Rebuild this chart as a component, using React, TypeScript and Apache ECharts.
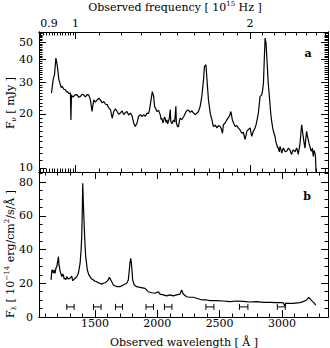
import React, { useEffect, useRef } from "react";
import * as echarts from "echarts";

// ---------- Data: top panel (F_nu [mJy] vs observed frequency [10^15 Hz]) ----------
const topFreq = [
  0.909, 0.915, 0.92, 0.925, 0.929, 0.932, 0.936, 0.94, 0.945, 0.949, 0.955, 0.961, 0.965, 0.968,
  0.974, 0.98, 0.982, 0.984, 0.988, 0.993, 1.0, 1.007, 1.013, 1.02, 1.027, 1.033, 1.04, 1.047,
  1.054, 1.061, 1.068, 1.075, 1.082, 1.09, 1.097, 1.104, 1.112, 1.119, 1.127, 1.134, 1.141, 1.149,
  1.157, 1.164, 1.172, 1.18, 1.187, 1.195, 1.203, 1.211, 1.219, 1.227, 1.235, 1.243, 1.252, 1.26,
  1.268, 1.277, 1.285, 1.294, 1.302, 1.311, 1.32, 1.329, 1.336, 1.342, 1.35, 1.357, 1.364, 1.369,
  1.375, 1.382, 1.391, 1.4, 1.405, 1.41, 1.415, 1.419, 1.424, 1.428, 1.433, 1.438, 1.442, 1.447,
  1.452, 1.457, 1.46, 1.467, 1.476, 1.483, 1.49, 1.493, 1.5, 1.506, 1.511, 1.516, 1.526, 1.536,
  1.544, 1.552, 1.56, 1.567, 1.578, 1.588, 1.598, 1.609, 1.62, 1.63, 1.641, 1.652, 1.663, 1.669,
  1.679, 1.686, 1.696, 1.708, 1.714, 1.72, 1.725, 1.73, 1.742, 1.754, 1.765, 1.777, 1.785, 1.793,
  1.8, 1.812, 1.824, 1.843, 1.854, 1.865, 1.876, 1.886, 1.898, 1.91, 1.922, 1.936, 1.948, 1.962,
  1.975, 1.988, 2.001, 2.014, 2.027, 2.038, 2.049, 2.058, 2.068, 2.075, 2.082, 2.096, 2.103, 2.11,
  2.118, 2.124, 2.128, 2.132, 2.143, 2.15, 2.158, 2.172, 2.18, 2.189, 2.2, 2.209, 2.217, 2.224,
  2.232, 2.239, 2.247, 2.254, 2.262, 2.269, 2.277, 2.284, 2.3, 2.314, 2.33, 2.345, 2.352, 2.36,
  2.368, 2.376, 2.392, 2.408, 2.416, 2.423, 2.43, 2.439, 2.447, 2.456, 2.463, 2.471, 2.48, 2.489,
  2.497, 2.505, 2.513, 2.521, 2.53, 2.538, 2.546, 2.555, 2.563, 2.572, 2.58, 2.589, 2.595, 2.6,
];
const topFlux = [
  26.1, 31, 33, 40.8, 38, 35.2, 31, 29.6, 28.0, 28.4, 27.4, 27.2, 26.5, 26.6,
  25.9, 26.1, 18.5, 25.5, 24.8, 25.0, 25.6, 25.5, 24.7, 25.0, 25.7, 25.5, 24.8, 25.6,
  25.5, 23.9, 20.6, 23.9, 23.2, 23.9, 24.4, 23.9, 23.0, 23.4, 22.6, 22.5, 21.6, 21.1,
  18.9, 20.6, 21.3, 20.6, 19.9, 20.2, 20.8, 19.8, 20.3, 20.6, 19.7, 20.2, 19.5, 17.8,
  17.0, 17.8, 19.4, 19.8, 19.3, 19.8, 19.4, 20.2, 20.0, 21.1, 23.9, 26.6, 25.0, 22.0,
  21.4, 20.6, 20.9, 19.8, 18.6, 18.9, 17.8, 18.2, 19.2, 18.9, 17.9, 18.5, 17.6, 18.2,
  19.0, 21.1, 18.2, 17.6, 18.5, 18.0, 22.0, 17.8, 17.0, 17.0, 18.3, 18.9, 18.6, 19.2,
  19.9, 20.6, 21.0, 20.9, 20.4, 20.8, 20.2, 19.8, 20.2, 20.6, 22.0, 25.0, 31.0, 36.6,
  37.5, 31.0, 23.9, 20.2, 19.2, 18.5, 17.6, 17.0, 17.3, 16.7, 17.2, 17.0, 16.5, 15.6,
  17.4, 17.8, 18.5, 19.4, 20.6, 18.5, 17.6, 17.0, 17.2, 16.7, 16.3, 15.6, 15.8, 14.4,
  16.0, 16.4, 16.7, 15.0, 16.0, 16.5, 17.4, 18.6, 20.2, 22.5, 25.0, 25.5, 27, 29.6,
  41.7, 52.7, 51, 49.5, 36.6, 30, 26.1, 20.2, 18.2, 16.7, 15.6, 15.0, 14.0, 13.5,
  13.0, 12.9, 12.3, 13.2, 12.7, 12.1, 12.6, 12.9, 12.3, 12.4, 12.9, 12.6, 12.2, 11.9,
  12.4, 12.6, 12.3, 12.9, 12.4, 11.9, 12.6, 13.5, 15.2, 17.4, 16.2, 15.0, 13.8, 12.9,
  14.6, 16.0, 15.0, 14.4, 13.6, 13.2, 12.6, 12.4, 12.9, 11.6, 12.5, 12.1, 11.5, 9.4,
];

// ---------- Data: bottom panel (F_lambda [1e-14 erg/cm2/s/A] vs observed wavelength [A]) ----------
const botWave = [
  1147, 1153, 1158, 1165, 1172, 1179, 1186, 1193, 1200, 1206, 1210, 1214, 1220, 1225, 1233, 1240,
  1246, 1252, 1259, 1266, 1273, 1286, 1299, 1313, 1320, 1326, 1340, 1353, 1366, 1380, 1388, 1393,
  1398, 1401, 1404, 1406, 1410, 1414, 1420, 1425, 1438, 1450, 1460, 1473, 1486, 1500, 1514, 1527,
  1540, 1553, 1567, 1580, 1594, 1605, 1615, 1626, 1637, 1647, 1660, 1674, 1701, 1727, 1754, 1767,
  1775, 1780, 1786, 1790, 1794, 1802, 1815, 1834, 1861, 1901, 1927, 1955, 1981, 2008, 2021, 2048,
  2075, 2102, 2128, 2155, 2182, 2195, 2208, 2235, 2262, 2288, 2316, 2342, 2369, 2396, 2422, 2449,
  2476, 2529, 2583, 2636, 2689, 2743, 2797, 2850, 2904, 2957, 3010, 3024, 3030, 3037, 3090, 3144,
  3171, 3198, 3216, 3238, 3256, 3272,
];
const botFlux = [
  22, 27.5, 27.9, 26, 28, 25.9, 29, 29.9, 33, 35.8, 31, 29.9, 27, 25.9, 23.9, 25.5,
  24.9, 22.5, 23.0, 22.2, 23.9, 22.5, 23.0, 24.3, 21.5, 22.0, 23.0, 23.9, 25.9, 31.9, 40, 47.7,
  65, 79.3, 72, 67.5, 60, 51.6, 42, 35.8, 27.9, 25, 23.9, 22.5, 22.0, 21.2, 21.0, 20.2,
  20.0, 19.5, 20.0, 20.3, 21.0, 22, 23.6, 22.0, 20.5, 19.0, 18.5, 18.0, 18.0, 19.0, 20.0, 22.0,
  27.9, 32, 34.8, 33, 29.9, 22.0, 19.0, 18.0, 17.6, 17.0, 15.0, 14.4, 14.1, 15.0, 13.6, 13.1,
  12.5, 13.1, 12.5, 13.1, 13.6, 16.0, 13.6, 12.0, 11.7, 11.7, 11.1, 10.5, 10.1, 10.1, 9.7, 9.7,
  9.7, 9.5, 9.1, 9.5, 9.3, 8.9, 9.1, 8.7, 8.7, 8.5, 8.5, 6.5, 8.2, 8.1, 8.1, 8.5,
  9.1, 10.1, 11.7, 9.7, 8.5, 7.1,
];

// Continuum windows (start / end wavelength) marked in panel b
const winStart = [1273, 1488, 1664, 1909, 2057, 2390, 2659, 2963];
const winEnd = [1332, 1548, 1720, 1969, 2117, 2454, 2727, 3027];
const winLevel = 6;

// ---------- Ticks ----------
const freqTickLabels = [0.9, 1, 2];
const freqMajorTicks = [1, 2];
const freqMinorTicks = [
  0.87, 0.88, 0.89, 0.9, 0.91, 0.92, 0.93, 0.94, 0.95, 0.96, 0.97, 0.98, 0.99,
  1.1, 1.2, 1.3, 1.4, 1.5, 1.6, 1.7, 1.8, 1.9, 2.1, 2.2, 2.3, 2.4, 2.5, 2.6, 2.7,
];
const fnuTickLabels = [10, 20, 30, 40, 50];
const fnuMinorTicks = [
  11, 12, 13, 14, 15, 16, 17, 18, 19, 21, 22, 23, 24, 25, 26, 27, 28, 29,
  31, 32, 33, 34, 35, 36, 37, 38, 39, 41, 42, 43, 44, 45, 46, 47, 48, 49,
  51, 52, 53, 54, 55, 56, 57,
];
const waveTickLabels = [1500, 2000, 2500, 3000];
const waveMinorTicks = [
  1100, 1200, 1300, 1400, 1600, 1700, 1800, 1900, 2100, 2200, 2300, 2400,
  2600, 2700, 2800, 2900, 3100, 3200, 3300,
];
const flamTickLabels = [0, 20, 40, 60, 80];
const flamMinorTicks = [5, 10, 15, 25, 30, 35, 45, 50, 55, 65, 70, 75, 85];

const FONT = "DejaVu Serif";
const MAJOR = 7;
const MINOR = 3.5;

function fmt(v: number) {
  return String(+Number(v).toPrecision(4));
}

function axis(base: any, position: string, ticks: number[], len: number, labels?: number[], margin = 4) {
  return {
    ...base,
    position,
    axisLine: { show: true, onZero: false, lineStyle: { color: "#000", width: 1 } },
    axisTick: {
      show: true,
      inside: true,
      length: len,
      customValues: ticks,
      lineStyle: { color: "#000", width: 1 },
    },
    axisLabel: labels
      ? {
          show: true,
          customValues: labels,
          color: "#000",
          fontFamily: FONT,
          fontSize: 11,
          margin,
          formatter: (v: number) => fmt(v),
        }
      : { show: false },
    splitLine: { show: false },
    minorTick: { show: false },
    minorSplitLine: { show: false },
  };
}

export default function App() {
  const ref = useRef<HTMLDivElement>(null);

  useEffect(() => {
    if (!ref.current) return;
    const chart = echarts.init(ref.current, null, { renderer: "svg" });

    const topX = { type: "log", logBase: 10, gridIndex: 0, min: 0.865, max: 2.727 };
    const topY = { type: "log", logBase: 10, gridIndex: 0, min: 9.5, max: 57 };
    const botX = { type: "value", gridIndex: 1, min: 1050, max: 3370 };
    const botY = { type: "value", gridIndex: 1, min: 0, max: 86 };

    const topData = topFreq.map((f, i) => [f, topFlux[i]]);
    const botData = botWave.map((w, i) => [w, botFlux[i]]);
    const winData = winStart.map((s, i) => [s, winEnd[i], winLevel]);

    const textStyle = { fontFamily: FONT, fontSize: 11, fill: "#000" };

    chart.setOption({
      animation: false,
      backgroundColor: "#fff",
      grid: [
        { left: 39, top: 32, width: 289, height: 140 },
        { left: 39, top: 172, width: 289, height: 145 },
      ],
      xAxis: [
        axis(topX, "top", freqMajorTicks, MAJOR, freqTickLabels, 3),
        axis(topX, "top", freqMinorTicks, MINOR),
        axis(topX, "bottom", freqMajorTicks, MAJOR),
        axis(topX, "bottom", freqMinorTicks, MINOR),
        axis(botX, "bottom", waveTickLabels, MAJOR, waveTickLabels, 1),
        axis(botX, "bottom", waveMinorTicks, MINOR),
        axis(botX, "top", waveTickLabels, MAJOR),
        axis(botX, "top", waveMinorTicks, MINOR),
      ],
      yAxis: [
        axis(topY, "left", fnuTickLabels, MAJOR, fnuTickLabels, 6),
        axis(topY, "left", fnuMinorTicks, MINOR),
        axis(topY, "right", fnuTickLabels, MAJOR),
        axis(topY, "right", fnuMinorTicks, MINOR),
        axis(botY, "left", flamTickLabels, MAJOR, flamTickLabels, 6),
        axis(botY, "left", flamMinorTicks, MINOR),
        axis(botY, "right", flamTickLabels, MAJOR),
        axis(botY, "right", flamMinorTicks, MINOR),
      ],
      series: [
        {
          type: "line",
          xAxisIndex: 0,
          yAxisIndex: 0,
          data: topData,
          showSymbol: false,
          symbol: "none",
          lineStyle: { color: "#000", width: 1.2 },
          clip: true,
        },
        {
          type: "line",
          xAxisIndex: 4,
          yAxisIndex: 4,
          data: botData,
          showSymbol: false,
          symbol: "none",
          lineStyle: { color: "#000", width: 1.2 },
          clip: true,
        },
        {
          type: "custom",
          xAxisIndex: 4,
          yAxisIndex: 4,
          data: winData,
          encode: { x: [0, 1], y: 2 },
          renderItem: (_params: any, api: any) => {
            const a = api.coord([api.value(0), api.value(2)]);
            const b = api.coord([api.value(1), api.value(2)]);
            const h = 3;
            const style = { stroke: "#000", lineWidth: 1, fill: null };
            return {
              type: "group",
              children: [
                { type: "line", shape: { x1: a[0], y1: a[1], x2: b[0], y2: b[1] }, style },
                { type: "line", shape: { x1: a[0], y1: a[1] - h, x2: a[0], y2: a[1] + h }, style },
                { type: "line", shape: { x1: b[0], y1: b[1] - h, x2: b[0], y2: b[1] + h }, style },
              ],
            };
          },
        },
      ],
      graphic: [
        {
          type: "text",
          x: 175,
          y: 7,
          style: {
            text: "{t|Observed frequency [ 10}{s|15}{t| Hz ]}",
            align: "center",
            verticalAlign: "middle",
            rich: {
              t: { fontFamily: FONT, fontSize: 11, lineHeight: 14, verticalAlign: "middle", fill: "#000" },
              s: { fontFamily: FONT, fontSize: 7, lineHeight: 8, verticalAlign: "top", fill: "#000" },
            },
          },
        },
        {
          type: "text",
          x: 184,
          y: 342,
          style: { ...textStyle, text: "Observed wavelength [ Å ]", align: "center", verticalAlign: "middle" },
        },
        {
          type: "text",
          x: 10,
          y: 103,
          rotation: Math.PI / 2,
          style: {
            text: "{t|F}{b|ν}{t| [ mJy ]}",
            align: "center",
            verticalAlign: "middle",
            rich: {
              t: { fontFamily: FONT, fontSize: 11, lineHeight: 14, verticalAlign: "middle", fill: "#000" },
              b: { fontFamily: FONT, fontSize: 7, lineHeight: 8, verticalAlign: "bottom", fill: "#000" },
            },
          },
        },
        {
          type: "text",
          x: 10,
          y: 254,
          rotation: Math.PI / 2,
          style: {
            text: "{t|F}{b|λ}{t| [ 10}{s|−14}{t| erg/cm}{s|2}{t|/s/Å ]}",
            align: "center",
            verticalAlign: "middle",
            rich: {
              t: { fontFamily: FONT, fontSize: 11, lineHeight: 14, verticalAlign: "middle", fill: "#000" },
              b: { fontFamily: FONT, fontSize: 7, lineHeight: 8, verticalAlign: "bottom", fill: "#000" },
              s: { fontFamily: FONT, fontSize: 7, lineHeight: 8, verticalAlign: "top", fill: "#000" },
            },
          },
        },
        {
          type: "text",
          x: 308,
          y: 53,
          style: { ...textStyle, fontWeight: "bold", text: "a", align: "center", verticalAlign: "middle" },
        },
        {
          type: "text",
          x: 307,
          y: 196,
          style: { ...textStyle, fontWeight: "bold", text: "b", align: "center", verticalAlign: "middle" },
        },
      ],
    });

    return () => chart.dispose();
  }, []);

  return (
    <div
      ref={ref}
      style={{ position: "fixed", left: 0, top: 0, width: 330, height: 348, background: "#fff" }}
    />
  );
}
